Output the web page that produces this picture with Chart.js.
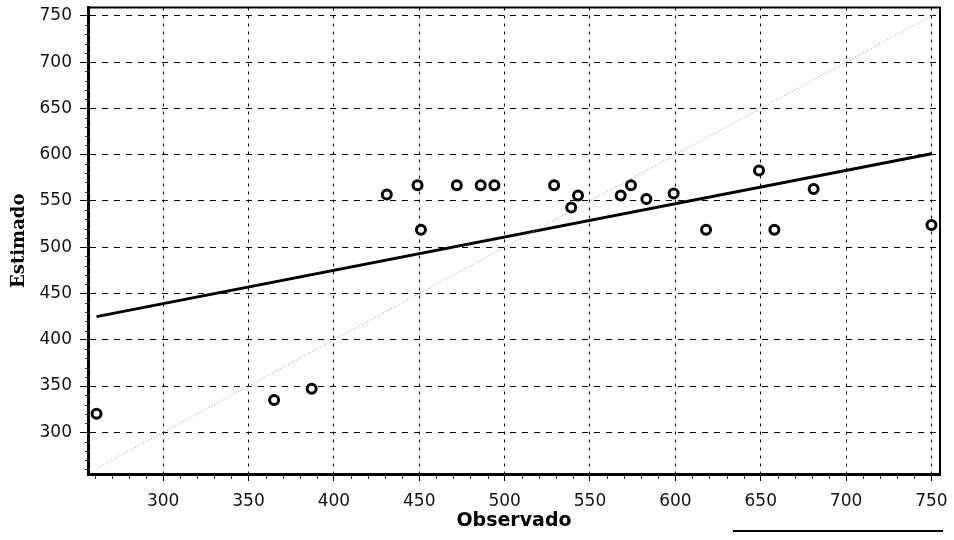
<!DOCTYPE html>
<html>
<head>
<meta charset="utf-8">
<script src="https://cdn.jsdelivr.net/npm/chart.js@4/dist/chart.umd.min.js"></script>
<style>
  body { margin: 0; background: #fff; }
  #wrap { width: 954px; height: 540px; position: relative; }
</style>
</head>
<body>
<div id="wrap"><canvas id="grafico"></canvas></div>
<script>
// Datos
const observado = [261, 365, 387, 431, 449, 451, 472, 486, 494, 529, 539, 543, 568, 574, 583, 599, 618, 649, 658, 681, 750];
const estimado  = [320, 335, 347, 557, 567, 519, 567, 567, 567, 567, 543, 556, 556, 567, 552, 558, 519, 583, 519, 563, 524];

// recta de ajuste y linea 1:1
const ajusteX = [261, 750];
const ajusteY = [425, 601];
const diagX = [262, 755];
const diagY = [262, 755];

const ticksX = [300, 350, 400, 450, 500, 550, 600, 650, 700, 750];
const ticksY = [300, 350, 400, 450, 500, 550, 600, 650, 700, 750];

const pares = (xs, ys) => xs.map((x, i) => ({ x: x, y: ys[i] }));

// marco superior/derecho, marcas menores y la raya de abajo
const marco = {
    id: 'marco',
    afterDraw(chart) {
        const { ctx, chartArea: a, scales } = chart;
        ctx.save();
        ctx.strokeStyle = '#000';
        ctx.lineWidth = 2;
        ctx.beginPath();
        ctx.moveTo(a.left, a.top);
        ctx.lineTo(a.right, a.top);
        ctx.lineTo(a.right, a.bottom);
        ctx.stroke();

        ctx.lineWidth = 1;
        ctx.strokeStyle = '#333';
        ctx.beginPath();
        for (let v = 260; v <= 750; v += 10) {
            if (v % 50 === 0) continue;
            const px = Math.round(scales.x.getPixelForValue(v)) + 0.5;
            ctx.moveTo(px, a.bottom + 2);
            ctx.lineTo(px, a.bottom + 5);
        }
        for (let v = 260; v <= 750; v += 10) {
            if (v % 50 === 0) continue;
            const py = Math.round(scales.y.getPixelForValue(v)) + 0.5;
            ctx.moveTo(a.left - 3, py);
            ctx.lineTo(a.left + 2, py);
        }
        ctx.stroke();

        ctx.strokeStyle = '#000';
        ctx.lineWidth = 2;
        ctx.beginPath();
        ctx.moveTo(733, 531);
        ctx.lineTo(943, 531);
        ctx.stroke();
        ctx.restore();
    }
};

const ctx = document.getElementById('grafico').getContext('2d');
new Chart(ctx, {
    type: 'scatter',
    data: {
        datasets: [
            { data: pares(diagX, diagY), showLine: true, pointRadius: 0, borderColor: '#9a9a9a', borderWidth: 1, borderDash: [1, 2] },
            { data: pares(ajusteX, ajusteY), showLine: true, pointRadius: 0, borderColor: '#000', borderWidth: 3 },
            { data: pares(observado, estimado), pointRadius: 4.5, pointBorderWidth: 3, pointBackgroundColor: '#fff', pointBorderColor: '#000' }
        ]
    },
    options: {
        responsive: true,
        maintainAspectRatio: false,
        animation: false,
        layout: { padding: { left: 0, top: 7, right: 14, bottom: 0 } },
        plugins: { legend: { display: false }, tooltip: { enabled: false } },
        scales: {
            x: {
                min: 256, max: 755,
                afterBuildTicks: s => { s.ticks = ticksX.map(v => ({ value: v })); },
                afterFit: s => { s.height = 66; s.paddingLeft = 0; s.paddingRight = 0; },
                grid: { color: '#000', lineWidth: 1, tickLength: 7, tickColor: '#000' },
                border: { color: '#000', width: 3, dash: [3, 5] },
                ticks: { color: '#111', padding: 10, maxRotation: 0, font: { family: 'DejaVu Sans', size: 17 } },
                title: { display: true, text: 'Observado', color: '#000', padding: { top: 0, bottom: 8 }, font: { family: 'DejaVu Sans', size: 19, weight: 'bold' } }
            },
            y: {
                min: 255, max: 759,
                afterBuildTicks: s => { s.ticks = ticksY.map(v => ({ value: v })); },
                afterFit: s => { s.width = 88; s.paddingTop = 0; s.paddingBottom = 0; },
                grid: { color: '#000', lineWidth: 1, tickLength: 8, tickColor: '#000' },
                border: { color: '#000', width: 3, dash: [6, 6] },
                ticks: { color: '#111', padding: 8, font: { family: 'DejaVu Sans', size: 17 } },
                title: { display: true, text: 'Estimado', color: '#000', padding: { top: 9, bottom: 0 }, font: { family: 'DejaVu Serif', size: 18, weight: 'bold' } }
            }
        }
    },
    plugins: [marco]
});
</script>
</body>
</html>
